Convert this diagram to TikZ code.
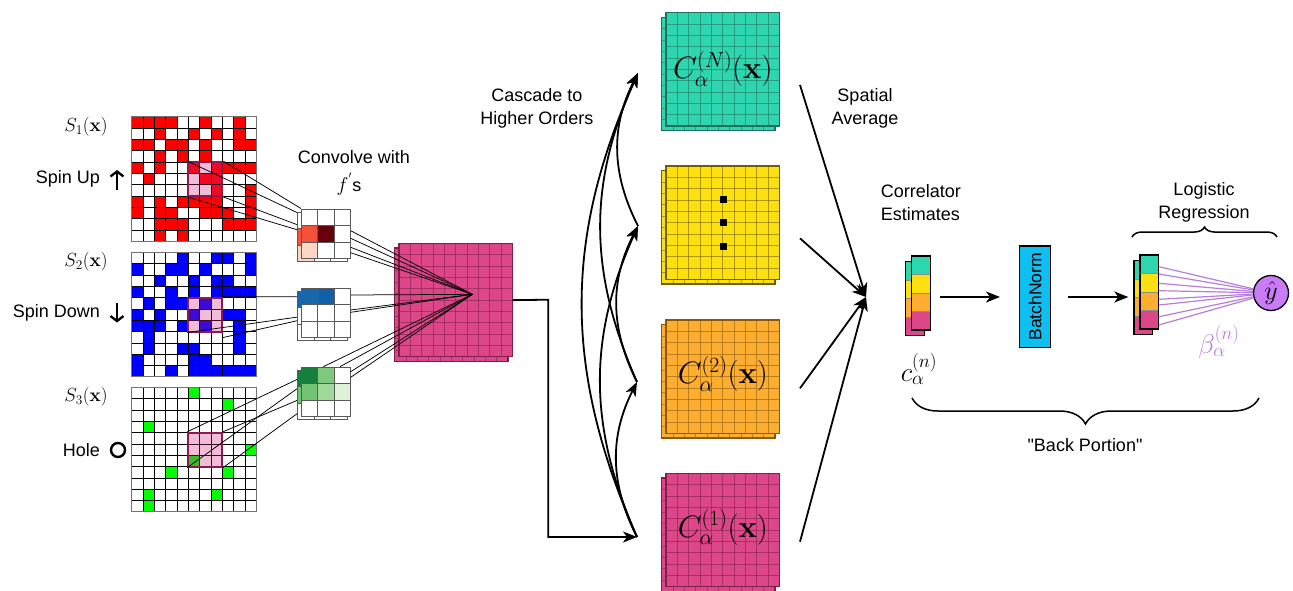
\documentclass[tikz,border=0pt]{standalone}
\usepackage{fix-cm}
\usepackage{amsmath}
\usepackage[no-math]{fontspec}
\setsansfont{Liberation Sans}
\newfontfamily\rawsans[Ligatures=TeXOff]{Liberation Sans}
\usetikzlibrary{arrows.meta,decorations.pathreplacing}
\definecolor{cteal}{HTML}{2ED6B0}
\definecolor{cteald}{HTML}{1F6F5C}
\definecolor{cyel}{HTML}{FDE010}
\definecolor{cyeld}{HTML}{6E5E00}
\definecolor{corg}{HTML}{FDAE31}
\definecolor{corgd}{HTML}{8A5A0A}
\definecolor{cpink}{HTML}{DD4689}
\definecolor{cpinkd}{HTML}{7E1F4A}
\definecolor{hl}{HTML}{CD207D}
\definecolor{hld}{HTML}{8B1A4E}
\definecolor{purp}{HTML}{B57EDC}
\definecolor{yhatc}{HTML}{C97CF5}
\definecolor{bnc}{HTML}{0EC0F2}
\definecolor{fa}{HTML}{F4513A}
\definecolor{fb}{HTML}{67000D}
\definecolor{fc}{HTML}{FED6C4}
\definecolor{fd}{HTML}{1A66AB}
\definecolor{fe}{HTML}{1160A8}
\definecolor{fg}{HTML}{157F3B}
\definecolor{fh}{HTML}{7FC97E}
\definecolor{fi}{HTML}{73C375}
\definecolor{fj}{HTML}{A1D99B}
\definecolor{fk}{HTML}{DEF2D9}
\definecolor{spinred}{HTML}{FF0000}
\definecolor{spinblue}{HTML}{0000FF}
\definecolor{spingreen}{HTML}{00FF00}

% spin grid: #1 x0, #2 y0, #3 colour, #4 rows
\newcommand\spingrid[4]{%
  \foreach \rowlist [count=\r from 0] in {#4} {
    \foreach \v [count=\c from 0] in \rowlist {
      \ifnum\v=1 \fill[#3] (#1+\c*11.33,#2+\r*11.33) rectangle ++(11.33,11.33); \fi
    }
  }
  \foreach \i in {1,...,10} {
    \draw[black, line width=0.8pt] (#1+\i*11.33,#2) -- ++(0,124.63);
    \draw[black, line width=0.8pt] (#1,#2+\i*11.33) -- ++(124.63,0);
  }
  \draw[black!55, line width=1pt] (#1,#2) rectangle ++(124.63,124.63);
}
% filter: #1 x, #2 y, #3 nine colours
\newcommand\filt[3]{%
  \foreach \dx/\dy in {3.3/3, 0/0} {
    \foreach \col [count=\k from 0] in {#3} {
      \pgfmathtruncatemacro\fr{int(\k/3)}
      \pgfmathtruncatemacro\fc{mod(\k,3)}
      \filldraw[fill=\col, draw=black!65, line width=0.8pt] (#1-\dx+\fc*16.5,#2+\dy+\fr*16.5) rectangle ++(16.5,16.5);
    }
  }
}
% feature map: #1 name, #2 x, #3 y, #4 fill, #5 line colour, #6 size
\newcommand\fmap[6]{%
  \foreach \dx/\dy in {4.3/4.7, 0/0} {
    \fill[#4] (#2-\dx,#3+\dy) rectangle ++(#6,#6);
    \foreach \i in {1,...,9} {
      \draw[#5, line width=0.7pt, draw opacity=0.55] (#2-\dx+\i*#6/10,#3+\dy) -- ++(0,#6);
      \draw[#5, line width=0.7pt, draw opacity=0.55] (#2-\dx,#3+\dy+\i*#6/10) -- ++(#6,0);
    }
    \draw[#5, line width=1.1pt] (#2-\dx,#3+\dy) rectangle ++(#6,#6);
  }
  \node[inner sep=0, minimum size=#6, anchor=north west] (#1) at (#2,#3) {};
}
% correlator vector: #1 name, #2 x, #3 y
\newcommand\vstack[3]{%
  \foreach \dx/\dy in {6/5.7, 0/0} {
    \foreach \cc [count=\k from 0] in {cteal,cyel,corg,cpink} {
      \filldraw[fill=\cc, draw=black!45, line width=0.5pt] (#2-\dx,#3+\dy+\k*18.5) rectangle ++(18.5,18.5);
    }
    \draw[black, line width=1.3pt] (#2-\dx,#3+\dy) rectangle ++(18.5,74);
  }
  \node[inner sep=0, minimum width=18.5, minimum height=74, anchor=north west] (#1) at (#2,#3) {};
}

\begin{document}
\begin{tikzpicture}[x=1pt,y=-1pt,
  sans/.style={font=\sffamily\fontsize{18}{23}\selectfont, inner sep=0pt},
  mlab/.style={font=\fontsize{19}{23}\selectfont, inner sep=0pt},
  clab/.style={font=\fontsize{31}{36}\selectfont, inner sep=0pt},
  big math/.style={font=\fontsize{27}{30}\selectfont, inner sep=0pt},
  thinln/.style={black, line width=0.75pt},
  hlbox/.style={fill=hl, fill opacity=0.3, draw=hld, draw opacity=1, line width=1.8pt, minimum size=34pt, inner sep=0pt},
  tip/.style={-{Stealth[length=14pt,width=11pt,inset=4pt]}},
  arr/.style={tip, line width=1.8pt},
  spinarr/.style={line width=2.3pt, -{Straight Barb[length=5pt,width=13pt]}},
]
\useasboundingbox (0,0) rectangle (1293,590);

% ---------- spin grids ----------
\spingrid{131.7}{116.7}{spinred}{
 {1,1,1,1,0,0,1,0,0,1,0},{0,0,1,0,0,1,0,1,0,1,0},{1,1,0,1,1,0,1,0,0,1,1},
 {0,0,1,0,1,0,1,0,0,0,0},{1,0,1,0,0,1,0,1,1,1,1},{0,1,0,0,0,0,1,1,0,0,0},
 {0,0,0,0,0,0,0,1,0,0,1},{1,0,1,0,1,1,1,1,0,0,1},{1,0,1,1,0,0,1,1,1,0,1},
 {0,0,1,1,1,0,0,0,1,1,1},{0,0,1,0,1,0,0,0,0,0,0}}
\spingrid{131.7}{252.3}{spinblue}{
 {0,0,0,0,1,0,0,1,1,0,1},{1,0,0,1,1,0,1,0,0,0,1},{0,0,1,0,0,1,0,1,1,0,0},
 {1,0,0,1,0,1,0,1,1,1,1},{0,1,0,1,1,0,1,0,0,0,0},{1,0,1,0,0,1,0,0,1,1,0},
 {1,1,1,0,1,0,1,0,0,1,0},{0,1,0,0,0,0,0,0,0,1,0},{0,1,0,0,1,1,0,0,0,1,0},
 {1,0,0,0,0,1,1,0,0,0,0},{1,0,0,1,0,1,1,1,1,1,1}}
\spingrid{131.7}{387.3}{spingreen}{
 {0,0,0,0,0,1,0,0,0,0,0},{0,0,0,0,0,0,0,0,1,0,0},{0,0,0,0,0,0,0,0,0,0,0},
 {0,1,0,0,0,0,0,0,0,0,0},{0,0,0,0,0,0,0,0,0,0,0},{0,0,0,0,0,0,0,0,0,0,1},
 {0,0,0,0,0,1,0,0,0,0,0},{0,0,0,1,0,0,0,0,1,0,0},{0,0,0,0,0,0,0,0,0,0,0},
 {0,1,0,0,0,0,0,1,0,0,0},{0,1,0,0,0,0,0,0,0,0,0}}

% highlighted patches
\node[hlbox] (h1) at (205.3,179.0) {};
\node[hlbox] (h2) at (205.3,314.6) {};
\node[hlbox] (h3) at (205.3,449.6) {};

% ---------- labels left ----------
\node[mlab] (s1) at (86,127) {$S_1(\mathbf{x})$};
\node[mlab] (s2) at (86,262) {$S_2(\mathbf{x})$};
\node[mlab] (s3) at (86,397) {$S_3(\mathbf{x})$};
\node[sans, anchor=east] (spinup) at (100,179) {Spin Up};
\coordinate (ua) at (117,189.5); \coordinate (ub) at (117,170);
\draw[spinarr] (ua) -- (ub);
\node[sans, anchor=east] (spindn) at (100,313) {Spin Down};
\coordinate (da) at (117,303); \coordinate (db) at (117,322.5);
\draw[spinarr] (da) -- (db);
\node[sans, anchor=east] (hole) at (100,450) {Hole};
\node[circle, draw, line width=2.4pt, minimum size=14pt, inner sep=0pt] (holeo) at (118,450) {};

% ---------- projection lines ----------
\coordinate (p1a) at (301,208.5); \coordinate (p1b) at (298,213);
\coordinate (p1c) at (298,225);   \coordinate (p1d) at (298,230);
\draw[thinln] (h1.north east) -- (p1a);
\draw[thinln] (h1.north west) -- (p1b);
\draw[thinln] (h1.south east) -- (p1c);
\draw[thinln] (h1.south west) -- (p1d);
\coordinate (p2a) at (298,296.8); \coordinate (p2b) at (298,317);
\coordinate (p2c) at (298,320.5);
\draw[thinln] (h2.north east) -- (p2a);
\draw[thinln] (h2.south west) -- (p2b);
\draw[thinln] ([yshift=-5pt]h2.south east) -- (p2c);
\coordinate (p3a) at (298,379); \coordinate (p3b) at (298,388);
\coordinate (p3c) at (298,400); \coordinate (p3d) at (298,413);
\draw[thinln] (h3.north west) -- (p3a);
\draw[thinln] (h3.south west) -- (p3b);
\draw[thinln] (h3.north east) -- (p3c);
\draw[thinln] (h3.south east) -- (p3d);

% ---------- filters ----------
\filt{301}{209}{white,white,white,fa,fb,white,fc,white,white}
\filt{301}{288.3}{fd,fe,white,white,white,white,white,white,white}
\filt{301}{367}{fg,fh,white,fi,fj,fk,white,white,white}
\node[inner sep=0, minimum size=49.5pt, anchor=north west] (f1) at (301,209) {};
\node[inner sep=0, minimum size=49.5pt, anchor=north west] (f2) at (301,288.3) {};
\node[inner sep=0, minimum size=49.5pt, anchor=north west] (f3) at (301,367) {};

\node[sans, align=center] (conv) at (354,157) {Convolve with};
\node[sans] (fs) at (349,184) {{\fontsize{20}{24}\selectfont$f^{'}$}s};

% ---------- big pink feature map ----------
\fmap{big}{399}{243.3}{cpink}{cpinkd}{113.3}
\coordinate (P) at (472.3,294.3);
\foreach \yy [count=\k] in {230.7,238.3,247.3,252.7} {
  \coordinate (qa\k) at (350.7,\yy); \draw[thinln] (qa\k) -- (P);
}
\foreach \yy [count=\k] in {295,310,312.3} {
  \coordinate (qb\k) at (350.7,\yy); \draw[thinln] (qb\k) -- (P);
}
\coordinate (qc1) at (323.3,366.7); \coordinate (qc2) at (340,366.7);
\coordinate (qc3) at (350.7,371.7); \coordinate (qc4) at (350.7,377.3);
\foreach \k in {1,...,4} { \draw[thinln] (qc\k) -- (P); }

% ---------- correlator maps ----------
\fmap{cN}{666}{12.7}{cteal}{cteald}{113.3}
\fmap{c3}{666}{166}{cyel}{cyeld}{113.3}
\fmap{c2}{666}{320}{corg}{corgd}{113.3}
\fmap{c1}{666}{473.3}{cpink}{cpinkd}{113.3}
\node[clab] (lN) at ([yshift=1pt]cN.center) {$C^{(N)}_\alpha(\mathbf{x})$};
\node[clab] (l2) at ([yshift=3pt]c2.center) {$C^{(2)}_\alpha(\mathbf{x})$};
\node[clab] (l1) at ([yshift=3pt]c1.center) {$C^{(1)}_\alpha(\mathbf{x})$};
\foreach \yy [count=\k] in {199,222.3,246.7} {
  \node[fill=black, minimum size=7pt, inner sep=0pt] (dot\k) at (723,\yy) {};
}

% pink map to C1
\coordinate (t1) at (637,537);
\coordinate (t2) at (637,382);
\coordinate (t3) at (638,226);
\coordinate (tN) at (638,73);
\draw[arr] (big.east) -- (548.3,299.7) |- (t1);

% cascade arrows
\draw[arr] (t1) to[bend left=27] (t2);
\draw[arr] (t1) to[bend left=24] (t3);
\draw[arr] (t1) to[bend left=24] (tN);
\draw[arr] (t2) to[bend left=27] (t3);
\draw[arr] (t2) to[bend left=24] (tN);
\draw[arr] (t3) to[bend left=27] (tN);
\node[sans, align=center] (casc) at (537,108) {Cascade to\\Higher Orders};

% spatial average arrows
\coordinate (sp) at (866,297);
\coordinate (sa1) at (800,85);
\coordinate (sa2) at (800,238.3);
\coordinate (sa3) at (800,388.3);
\coordinate (sa4) at (800,541.7);
\foreach \k in {1,...,4} { \draw[arr] (sa\k) -- (sp); }
\node[sans, align=center] (spav) at (865,108) {Spatial\\Average};

% ---------- back portion ----------
\node[sans, align=left, anchor=west] (corr) at (880.7,203) {Correlator\\Estimates};
\vstack{v1}{911.7}{256}
\node[big math] (cn) at (919,369) {$c^{(n)}_\alpha$};
\node[draw=black, line width=1.3pt, fill=bnc, minimum width=31.4pt, minimum height=101.7pt, inner sep=0pt] (bn) at (1035,296.9) {};
\node[sans, rotate=90, font=\sffamily\fontsize{17.5}{20}\selectfont] (bnt) at (bn.center) {BatchNorm};
\vstack{v2}{1140}{255}
\coordinate (a1s) at (940,297); \coordinate (a1e) at (1000,297);
\coordinate (a2s) at (1068.3,297); \coordinate (a2e) at (1128.3,297);
\draw[arr] (a1s) -- (a1e);
\draw[arr] (a2s) -- (a2e);

\node[circle, draw=black, line width=1.3pt, fill=yhatc, minimum size=35pt, inner sep=0pt, font=\fontsize{26}{28}\selectfont] (yhat) at (1271,293) {$\hat{y}$};
\foreach \yy [count=\k] in {266.7,274,283.3,290.7,299.3,305,316.7,325} {
  \coordinate (w\k) at (1159,\yy); \draw[purp, line width=1.2pt] (w\k) -- (yhat);
}
\node[big math, text=purp] (beta) at (1219,342) {$\beta^{(n)}_\alpha$};

\node[sans, align=center] (logr) at (1204,202) {Logistic\\Regression};
\coordinate (b1a) at (1132,237); \coordinate (b1b) at (1277,237);
\draw[line width=1.5pt, decorate, decoration={brace, amplitude=10pt}] (b1a) -- (b1b);
\coordinate (b2a) at (912,398); \coordinate (b2b) at (1259,398);
\draw[line width=1.5pt, decorate, decoration={brace, mirror, amplitude=26pt}] (b2a) -- (b2b);
\node[sans, font=\rawsans\fontsize{18}{23}\selectfont] (backp) at (1085,445) {"Back Portion"};
\end{tikzpicture}
\end{document}
